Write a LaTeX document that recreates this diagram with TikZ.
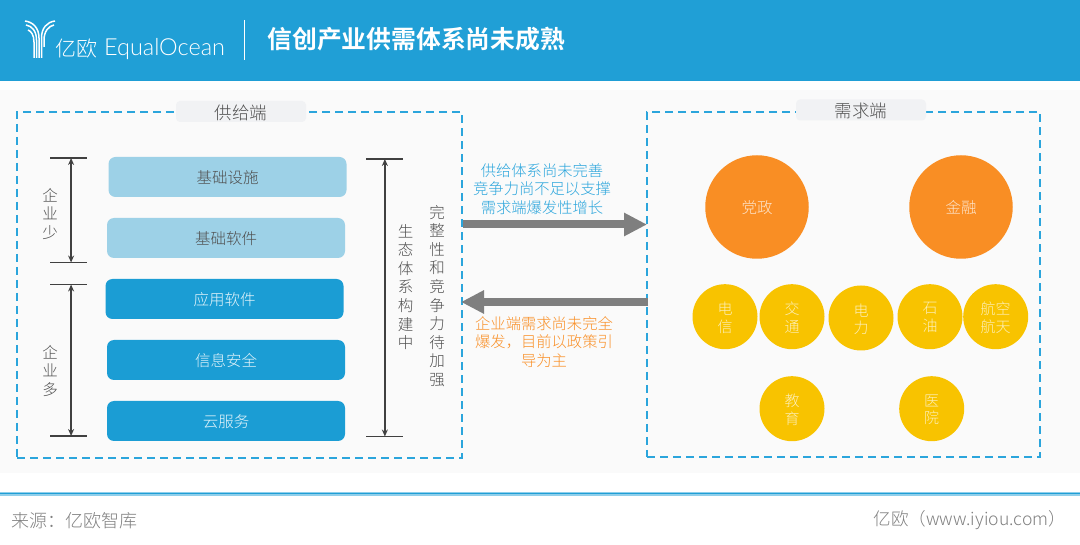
\documentclass[tikz,border=0pt]{standalone}
\usepackage{fontspec}
\usetikzlibrary{arrows.meta,calc}
\setmainfont[BoldFont={Noto Sans CJK SC Bold}]{Noto Sans CJK SC Light}
\newfontfamily\latinlight{Lato Light}
\newcommand{\dropped}[1]{\raisebox{-1pt}[\height][\depth]{#1}}
\definecolor{band}{HTML}{209FD6}
\definecolor{panel}{HTML}{FAFAFA}
\definecolor{dashblue}{HTML}{2BA5DC}
\definecolor{lightbox}{HTML}{9DD1E7}
\definecolor{darkbox}{HTML}{1B9DD4}
\definecolor{orangec}{HTML}{F98E24}
\definecolor{yellowc}{HTML}{F8C300}
\definecolor{grayarrow}{HTML}{7F7F7F}
\definecolor{darkline}{HTML}{404040}
\definecolor{graytext}{HTML}{505050}
\definecolor{foottext}{HTML}{808080}
\definecolor{bluetext}{HTML}{2BA5DC}
\definecolor{orangetext}{HTML}{F98E24}
\definecolor{tagfill}{HTML}{F1F2F4}
\definecolor{softwhite}{HTML}{E6F5FB}
\definecolor{softyellow}{HTML}{FDEFB8}
\definecolor{softorange}{HTML}{FDE6CF}
\tikzset{
  x=1pt,y=-1pt,
  every node/.style={inner sep=0pt,outer sep=0pt},
  panelbox/.style={draw=dashblue,line width=2pt,dash pattern=on 8pt off 5pt,rectangle,anchor=north west},
  tagbox/.style={fill=tagfill,rounded corners=4pt,minimum width=130pt,minimum height=21pt,text=graytext,font=\fontsize{17.5}{17.5}\selectfont},
  layerbase/.style={rounded corners=7pt,minimum width=238pt,minimum height=40pt,font=\fontsize{15.5}{15.5}\selectfont},
  lightlayer/.style={layerbase,fill=lightbox,text=graytext},
  darklayer/.style={layerbase,fill=darkbox,text=softwhite},
  bigcirc/.style={circle,fill=orangec,minimum size=103.5pt,text=softorange,font=\fontsize{15.5}{15.5}\selectfont},
  smallcirc/.style={circle,fill=yellowc,minimum size=65pt,text=softyellow,font=\fontsize{15}{17}\selectfont,align=center},
  vtext/.style={text=graytext,font=\fontsize{15.5}{18.6}\selectfont,align=center},
  flowarrow/.style={draw=grayarrow,line width=8pt,-{Triangle[length=23pt,width=22pt]}},
  tickline/.style={draw=darkline,line width=1.5pt},
  spanarrow/.style={draw=darkline,line width=1.5pt,{Stealth[length=7pt,width=6pt]}-{Stealth[length=7pt,width=6pt]}},
}
\begin{document}
\begin{tikzpicture}
\useasboundingbox (0,0) rectangle (1080,545);
\fill[white] (0,0) rectangle (1080,545);
\fill[band] (0,0) rectangle (1080,81);
\fill[panel] (0,90) rectangle (1080,473);
% logo
\begin{scope}[draw=white,line width=1.5pt]
\draw (25,21) .. controls (33,22) and (39,28) .. (39,38) -- (39,58);
\draw (26,25) .. controls (32,26) and (36.5,31) .. (36.5,40) -- (36.5,58);
\draw (28,30) .. controls (31,31) and (34,35) .. (34,42) -- (34,58);
\draw (55,21) .. controls (47,22) and (41.5,28) .. (41.5,38) -- (41.5,58);
\draw (54,25) .. controls (49,26) and (44,31) .. (44,40) -- (44,47);
\end{scope}
\node[anchor=west,text=white,font=\fontsize{21}{21}\selectfont] (brandcn) at (55,49) {亿欧};
\node[anchor=west,text=white,font=\latinlight\fontsize{23.5}{23.5}\selectfont] (branden) at (104,49) {EqualOcean};
\draw[white,line width=1pt] (244,20) -- (244,60);
\node[anchor=west,text=white,font=\bfseries\fontsize{24.8}{24.8}\selectfont] (title) at (267.5,39.5) {信创产业供需体系尚未成熟};
% panels
\node[panelbox,minimum width=445pt,minimum height=346pt] (supply) at (17,112) {};
\node[panelbox,minimum width=393pt,minimum height=345pt] (demand) at (647,112) {};
\node[tagbox] (supplytag) at (241,111.5) {\dropped{供给端}};
\node[tagbox] (demandtag) at (861,110) {\dropped{需求端}};
% layers
\node[lightlayer] (l1) at (227.5,177) {\dropped{基础设施}};
\node[lightlayer] (l2) at (226,238) {\dropped{基础软件}};
\node[darklayer] (l3) at (224.5,299) {\dropped{应用软件}};
\node[darklayer] (l4) at (226,360) {\dropped{信息安全}};
\node[darklayer] (l5) at (226,421) {\dropped{云服务}};
% span markers
\coordinate (a1l) at (50,158); \coordinate (a1r) at (87,158);
\coordinate (a2l) at (50,262.5); \coordinate (a2r) at (87,262.5);
\coordinate (a3l) at (50,284.5); \coordinate (a3r) at (87,284.5);
\coordinate (a4l) at (50,436); \coordinate (a4r) at (87,436);
\coordinate (a5l) at (366,159); \coordinate (a5r) at (403,159);
\coordinate (a6l) at (366,436.5); \coordinate (a6r) at (403,436.5);
\draw[tickline] (a1l) -- (a1r);
\draw[tickline] (a2l) -- (a2r);
\draw[tickline] (a3l) -- (a3r);
\draw[tickline] (a4l) -- (a4r);
\draw[tickline] (a5l) -- (a5r);
\draw[tickline] (a6l) -- (a6r);
\draw[spanarrow] ($(a1l)!0.57!(a1r)$) -- ($(a2l)!0.57!(a2r)$);
\draw[spanarrow] ($(a3l)!0.57!(a3r)$) -- ($(a4l)!0.57!(a4r)$);
\draw[spanarrow] ($(a5l)!0.51!(a5r)$) -- ($(a6l)!0.51!(a6r)$);
% vertical texts
\node[vtext] (vt1) at (50,214) {企\\业\\少};
\node[vtext] (vt2) at (50,371) {企\\业\\多};
\node[vtext] (vt3) at (405.5,287) {生\\态\\体\\系\\构\\建\\中};
\node[vtext] (vt4) at (437,296) {完\\整\\性\\和\\竞\\争\\力\\待\\加\\强};
% flows
\coordinate (f1s) at (463,224.5); \coordinate (f1e) at (647,224.5);
\coordinate (f2s) at (648,302); \coordinate (f2e) at (461,302);
\draw[flowarrow] (f1s) -- (f1e);
\draw[flowarrow] (f2s) -- (f2e);
\node[text=bluetext,align=center,font=\fontsize{15.3}{18.3}\selectfont] (t1) at (542,189) {供给体系尚未完善\\竞争力尚不足以支撑\\需求端爆发性增长};
\node[text=orangetext,align=center,font=\fontsize{15.3}{18.6}\selectfont] (t2) at (544,342) {企业端需求尚未完全\\爆发，目前以政策引\\导为主};
% circles
\node[bigcirc] (c1) at (757,207) {\dropped{党政}};
\node[bigcirc] (c2) at (961,207) {\dropped{金融}};
\node[smallcirc] (s1) at (725,316.7) {\dropped{\shortstack{电\\[1pt]信}}};
\node[smallcirc] (s2) at (792,316.7) {\dropped{\shortstack{交\\[1pt]通}}};
\node[smallcirc] (s3) at (861,318) {\dropped{\shortstack{电\\[1pt]力}}};
\node[smallcirc] (s4) at (930,316.7) {\dropped{\shortstack{石\\[1pt]油}}};
\node[smallcirc] (s5) at (995.7,316.7) {\dropped{\shortstack{航空\\[1pt]航天}}};
\node[smallcirc] (s6) at (792,408.7) {\dropped{\shortstack{教\\[1pt]育}}};
\node[smallcirc] (s7) at (931.7,408.7) {\dropped{\shortstack{医\\[1pt]院}}};
% footer
\fill[band!50] (0,491.5) rectangle (1080,495.5);
\fill[band] (0,492.6) rectangle (1080,494.4);
\node[anchor=west,text=foottext,font=\fontsize{18}{18}\selectfont] (src) at (12,520.5) {来源：亿欧智库};
\node[anchor=east,text=foottext,font=\fontsize{17.6}{17.6}\selectfont] (site) at (1066,520.5) {亿欧（www.iyiou.com）};
\end{tikzpicture}
\end{document}
